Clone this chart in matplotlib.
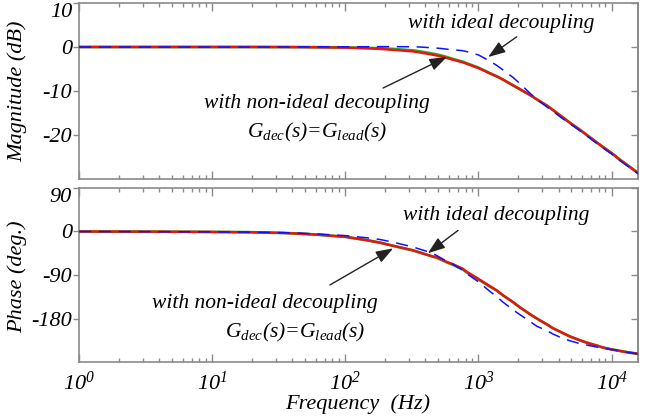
import matplotlib
matplotlib.use("Agg")
import matplotlib.pyplot as plt
from matplotlib.ticker import LogLocator, NullFormatter, FixedLocator, FixedFormatter

plt.rcParams['font.family'] = ['Liberation Serif', 'DejaVu Serif']
plt.rcParams['font.style'] = 'italic'
plt.rcParams['mathtext.fontset'] = 'custom'
plt.rcParams['mathtext.rm'] = 'Liberation Serif:italic'
plt.rcParams['mathtext.it'] = 'Liberation Serif:italic'
plt.rcParams['mathtext.default'] = 'it'
plt.rcParams['axes.unicode_minus'] = False

# ---- data ----
freq = [1, 3.1, 10, 19.3, 34, 45.7, 61, 100, 145, 182, 228, 322, 363, 432, 488,
        541, 580, 643, 764, 805, 1000, 1220, 1376, 1528, 1816, 2050, 2437, 2744,
        3260, 3620, 4300, 4855, 5770, 6515, 7745, 8590, 10000, 11530, 12560, 15730]

mag_nonideal = [0, 0, 0, 0, -0.02, -0.04, -0.07, -0.15, -0.3, -0.45, -0.65, -1.0, -1.25,
                -1.65, -1.95, -2.25, -2.5, -2.9, -3.5, -3.75, -4.8, -6.0, -6.7, -7.4,
                -8.7, -9.6, -10.9, -11.9, -13.3, -14.3, -16.0, -17.2, -18.8, -20.0,
                -21.7, -22.7, -24.1, -25.6, -26.4, -28.6]
mag_nonideal2 = [0, 0, 0, 0, -0.01, -0.02, -0.04, -0.1, -0.2, -0.3, -0.45, -0.78, -1.0,
                 -1.4, -1.72, -2.03, -2.3, -2.72, -3.35, -3.62, -4.7, -5.95, -6.68, -7.4,
                 -8.7, -9.6, -10.9, -11.9, -13.3, -14.3, -16.0, -17.2, -18.8, -20.0,
                 -21.7, -22.7, -24.1, -25.6, -26.4, -28.6]
mag_ideal = [0, 0, 0, 0, 0, 0.02, 0.04, 0.05, 0.06, 0.08, 0.08, 0.05, 0.0, -0.15,
             -0.25, -0.38, -0.5, -0.62, -0.85, -1.0, -1.8, -3.2, -4.2, -5.2, -6.9,
             -8.3, -10.5, -11.9, -13.6, -14.6, -16.3, -17.4, -19.0, -20.2, -21.9,
             -22.9, -24.3, -25.8, -26.6, -28.7]

ph_nonideal = [0, -0.3, -0.9, -1.5, -3.0, -4.5, -6.5, -11, -18, -23, -29.5, -39, -43.5,
               -50, -54, -59, -63, -67.5, -77, -82, -98, -113, -122, -132, -146, -157,
               -171, -180, -192, -200, -210, -217, -225, -230, -236, -240, -244, -247,
               -249, -253]
ph_nonideal2 = [0, -0.3, -0.9, -1.5, -3.0, -4.5, -6.5, -11, -18, -23, -29.5, -39, -43.5,
                -50, -54.5, -59.8, -64, -68.8, -78.5, -83.5, -99.2, -114, -122.5, -132,
                -146, -157, -171, -180, -192, -200, -210, -217, -225, -230, -236, -240,
                -244, -247, -249, -253]
ph_ideal = [0, -0.3, -0.8, -1.3, -2.5, -3.5, -5.0, -8.5, -13, -16.5, -22, -32, -36.5,
            -43, -50, -57, -62, -68, -80, -86, -104, -124, -135, -146, -162, -172,
            -186, -196, -205, -212, -221, -226, -232, -235, -239, -241, -244, -247,
            -249, -253]

xtick_vals = [1, 10, 100, 1000, 10000]
xtick_labels = ['$10^{0}$', '$10^{1}$', '$10^{2}$', '$10^{3}$', '$10^{4}$']
mag_ticks = [-20, -10, 0, 10]
mag_labels = ['-20', '-10', '0', '10']
ph_ticks = [-180, -90, 0, 90]
ph_labels = ['-180', '-90', '0', '90']

W, H = 660, 416
fig = plt.figure(figsize=(W / 100, H / 100), dpi=100)
L, R = 79 / W, 638 / W
ax1 = fig.add_axes([L, 1 - 179 / H, R - L, 176 / H])
ax2 = fig.add_axes([L, 1 - 362 / H, R - L, 174 / H])

spine_col = '#8a8a8a'
red, green, blue = '#ee1111', '#22aa22', '#1010ff'


def style(ax, ticks, labels, ylim):
    ax.set_xscale('log')
    ax.set_xlim(1, 15800)
    ax.set_ylim(*ylim)
    for s in ax.spines.values():
        s.set_color(spine_col)
        s.set_linewidth(1.2)
    ax.xaxis.set_major_locator(FixedLocator(xtick_vals))
    ax.xaxis.set_minor_locator(LogLocator(base=10, subs=range(2, 10), numticks=20))
    ax.xaxis.set_minor_formatter(NullFormatter())
    ax.tick_params(axis='x', which='both', direction='in', top=True, bottom=True,
                   color=spine_col, width=1.0)
    ax.tick_params(axis='x', which='major', length=6)
    ax.tick_params(axis='x', which='minor', length=3)
    ax.yaxis.set_major_locator(FixedLocator(ticks))
    ax.yaxis.set_major_formatter(FixedFormatter(labels))
    ax.tick_params(axis='y', which='major', direction='out', left=True, right=False,
                   length=4, color=spine_col, width=1.0, labelsize=16, pad=1)
    sec = ax.secondary_yaxis('right')
    sec.yaxis.set_major_locator(FixedLocator(ticks))
    sec.tick_params(axis='y', direction='in', length=5, color=spine_col, width=1.0,
                    labelright=False)
    sec.spines['right'].set_color(spine_col)
    sec.spines['right'].set_linewidth(1.2)
    for lab in ax.get_yticklabels():
        lab.set_fontstyle('italic')
    top = ax.get_yticklabels()[-1]
    top.set_va('top')


style(ax1, mag_ticks, mag_labels, (-30, 10))
style(ax2, ph_ticks, ph_labels, (-270, 90))
ax1.tick_params(axis='x', labelbottom=False)
ax2.xaxis.set_major_formatter(FixedFormatter(xtick_labels))
ax2.tick_params(axis='x', which='major', labelsize=16, pad=7)

# curves
ax1.plot(freq, mag_nonideal2, color=green, lw=2.0, zorder=2)
ax1.plot(freq, mag_nonideal, color=red, lw=1.7, zorder=3)
ax1.plot(freq, mag_ideal, color=blue, lw=1.1, dashes=(8, 5), zorder=4)
ax2.plot(freq, ph_nonideal2, color=green, lw=2.0, zorder=2)
ax2.plot(freq, ph_nonideal, color=red, lw=1.7, zorder=3)
ax2.plot(freq, ph_ideal, color=blue, lw=1.1, dashes=(8, 5), zorder=4)

ax1.set_ylabel('Magnitude (dB)', fontsize=16)
ax1.yaxis.set_label_coords(-0.093, 0.5)
ax2.set_ylabel('Phase (deg.)', fontsize=16)
ax2.yaxis.set_label_coords(-0.093, 0.49)
fig.text(358 / W, 1 - 404 / H, 'Frequency  (Hz)', fontsize=16, ha='center', va='center')

fs = 15.5
arrow = dict(arrowstyle='-|>,head_length=0.7,head_width=0.25', color='#222222', lw=1.0,
             shrinkA=0, shrinkB=0, mutation_scale=15)

# magnitude annotations
ax1.text(0.755, 0.886, 'with ideal decoupling', transform=ax1.transAxes, fontsize=fs,
         ha='center', va='center')
ax1.annotate('', xy=(0.732, 0.693), xytext=(0.783, 0.808), xycoords='axes fraction',
             textcoords='axes fraction', arrowprops=arrow)
ax1.text(0.425, 0.43, 'with non-ideal decoupling', transform=ax1.transAxes, fontsize=fs,
         ha='center', va='center')
ax1.text(0.427, 0.265, 'G$_{dec}$(s)=G$_{lead}$(s)', transform=ax1.transAxes, fontsize=fs,
         ha='center', va='center')
ax1.annotate('', xy=(0.658, 0.693), xytext=(0.544, 0.517), xycoords='axes fraction',
             textcoords='axes fraction', arrowprops=arrow)

# phase annotations
ax2.text(0.746, 0.84, 'with ideal decoupling', transform=ax2.transAxes, fontsize=fs,
         ha='center', va='center')
ax2.annotate('', xy=(0.624, 0.625), xytext=(0.678, 0.756), xycoords='axes fraction',
             textcoords='axes fraction', arrowprops=arrow)
ax2.text(0.333, 0.335, 'with non-ideal decoupling', transform=ax2.transAxes, fontsize=fs,
         ha='center', va='center')
ax2.text(0.386, 0.17, 'G$_{dec}$(s)=G$_{lead}$(s)', transform=ax2.transAxes, fontsize=fs,
         ha='center', va='center')
ax2.annotate('', xy=(0.562, 0.653), xytext=(0.449, 0.443), xycoords='axes fraction',
             textcoords='axes fraction', arrowprops=arrow)

fig.savefig('out.png', dpi=100)
